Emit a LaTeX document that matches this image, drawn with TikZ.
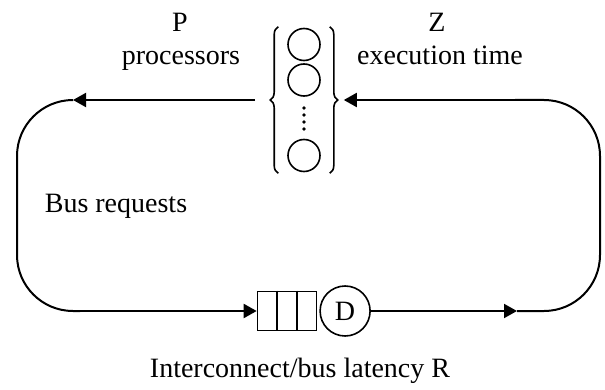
\documentclass[tikz,border=0pt]{standalone}
\usepackage{fontspec}
\setmainfont{Liberation Serif}
\usetikzlibrary{positioning}
\usetikzlibrary{fit}
\usetikzlibrary{calc}
\usetikzlibrary{arrows.meta}
\usetikzlibrary{decorations.pathreplacing}

\begin{document}
\begin{tikzpicture}[
            x=0.5pt, y=-0.5pt,
            >={Triangle[length=6.5pt,width=7pt]}, line width=1pt,
            lbl/.style={font=\fontsize{14}{16.5}\selectfont, inner sep=0pt, anchor=base},
            proc/.style={draw, circle, line width=0.8pt, minimum size=16pt, inner sep=0pt},
            brc/.style={decorate, decoration={brace, amplitude=4pt}, line width=0.8pt},
            queue/.style={draw, rectangle, line width=0.8pt, minimum width=29.5pt, minimum height=19.5pt, inner sep=0pt},
            delay/.style={draw, circle, line width=0.8pt, minimum size=25pt, inner sep=0pt, font=\fontsize{14}{16.5}\selectfont}
        ]
            \useasboundingbox (0,0) rectangle (605,390);

            % Processors
            \node[proc] (p1) at (304,44.5) {};
            \node[proc] (p2) at (304,80) {};
            \node[proc] (p3) at (304,155.5) {};
            \foreach \y in {108,115,122,129}
                \fill (304,\y) circle (0.9pt);
            \node[fit=(p1)(p3), inner xsep=4pt, inner ysep=0pt] (procs) {};
            \draw[brc] (procs.south west) -- (procs.north west);
            \draw[brc] (procs.north east) -- (procs.south east);
            \node[lbl] (pnum) at (180,32) {P};
            \node[lbl] (plbl) at (181,65) {processors};
            \node[lbl] (znum) at (437,32) {Z};
            \node[lbl] (zlbl) at (440,65) {execution time};

            % Interconnect
            \node[queue] (queue) at (287,311) {};
            \foreach \i in {1,2}
                \draw[line width=0.8pt] ($(queue.north west)!\i/3!(queue.north east)$) -- ($(queue.south west)!\i/3!(queue.south east)$);
            \node[delay, right=1pt of queue] (delay) {D};
            \node[lbl] (bus) at (116,213) {Bus requests};
            \node[lbl] (lat) at (300,377) {Interconnect/bus latency R};

            % Loop
            \coordinate (tl) at (73,100);
            \coordinate (lc) at (17,311);
            \coordinate (bl) at (80,311);
            \coordinate (br) at (517,311);
            \coordinate (rc) at (600,100);
            \coordinate (tr) at (515,100);
            \draw[->, shorten <=11.5pt] (procs) -- (tl);
            \draw[rounded corners=28pt] (tl) -| (lc) -- (bl);
            \draw[->] (bl) -- (queue);
            \draw[->] (delay) -- (br);
            \draw[rounded corners=28pt] (br) -| (rc) -- (tr);
            \draw[->, shorten >=7pt] (tr) -- (procs);
        \end{tikzpicture}
\end{document}
